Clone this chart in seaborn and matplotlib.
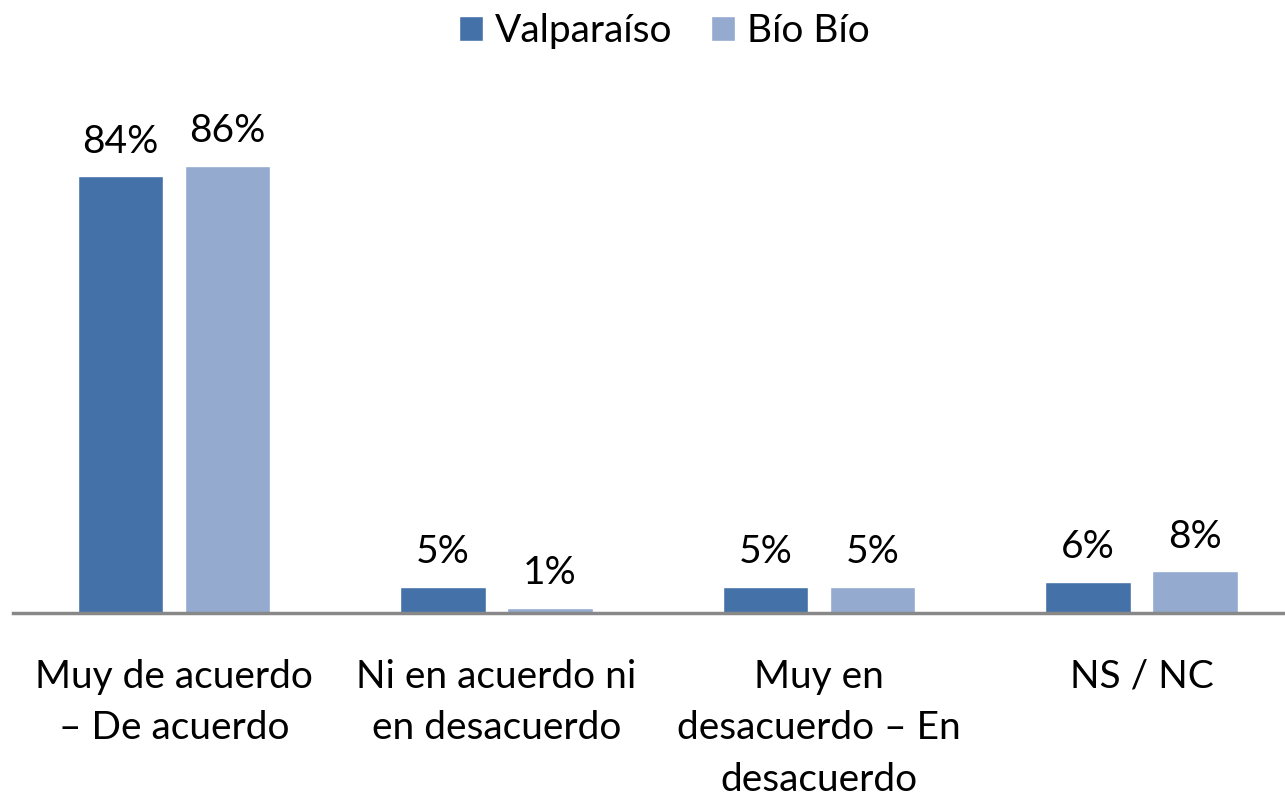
import matplotlib
matplotlib.use("Agg")
import matplotlib.pyplot as plt
import seaborn as sns
import pandas as pd

categories = ["Muy de acuerdo\n– De acuerdo", "Ni en acuerdo ni\nen desacuerdo",
              "Muy en\ndesacuerdo – En\ndesacuerdo", "NS / NC"]
series_names = ["Valparaíso", "Bío Bío"]
valparaiso = [84, 5, 5, 6]
biobio = [86, 1, 5, 8]
colors = ["#4472A8", "#95AACF"]

df = pd.DataFrame({
    "cat": categories * 2,
    "serie": [series_names[0]] * 4 + [series_names[1]] * 4,
    "val": valparaiso + biobio,
})

sns.set_style("white")
plt.rcParams["font.family"] = ["Lato", "DejaVu Sans"]
plt.rcParams["text.color"] = "black"
plt.rcParams["xtick.color"] = "black"

W, H = 1285, 801
fig = plt.figure(figsize=(W / 100, H / 100), dpi=100)
left_px, right_px = 12.75, 1285
base_px = 613
ax = fig.add_axes([left_px / W, (H - base_px) / H, (right_px - left_px) / W, (base_px - 93) / H])

sns.barplot(data=df, x="cat", y="val", hue="serie", palette=colors,
            width=0.664, gap=0.2, ax=ax, saturation=1, legend=True)

ax.set_ylim(0, 100)
ax.set_xlim(-0.5, (1285 - 174) / 322.5)
for c in ax.containers:
    ax.bar_label(c, labels=[f"{v:.0f}%" for v in c.datavalues], padding=12,
                 fontsize=28, color="black")

ax.set_xlabel("")
ax.set_ylabel("")
ax.set_yticks([])
ax.tick_params(axis="x", length=0, pad=33, labelsize=28, labelcolor="black")
for lbl in ax.get_xticklabels():
    lbl.set_linespacing(1.53)
for s in ["top", "right", "left"]:
    ax.spines[s].set_visible(False)
ax.spines["bottom"].set_color("#888888")
ax.spines["bottom"].set_linewidth(2.5)

ax.legend(loc="upper center", ncol=2, frameon=False, fontsize=28,
          handlelength=0.62, handleheight=0.62, handletextpad=0.3,
          columnspacing=1.0, borderaxespad=0)
ax.legend_.set_bbox_to_anchor((0.517, 1.003), transform=fig.transFigure)
for t in ax.legend_.get_texts():
    t.set_color("black")

fig.savefig("out.png", dpi=100)
